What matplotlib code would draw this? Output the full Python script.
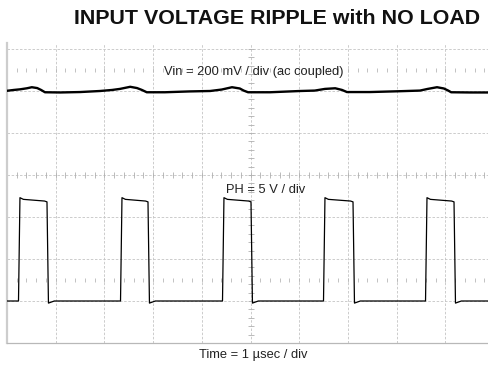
import matplotlib.pyplot as plt
import numpy as np

plt.rcParams['font.family'] = ['Liberation Sans', 'DejaVu Sans']

# Vin channel, ac coupled: time (usec) and ripple (mV)
vin_t = [0.00, 0.14, 0.27, 0.41, 0.51, 0.62, 0.70, 0.78, 1.09, 1.50, 1.91,
         2.16, 2.32, 2.53, 2.67, 2.77, 2.87, 3.24, 3.75, 4.17, 4.41, 4.62,
         4.78, 4.86, 4.95, 5.40, 6.02, 6.32, 6.53, 6.74, 6.88, 6.98, 7.45,
         8.07, 8.48, 8.64, 8.83, 8.97, 9.06, 9.12, 9.51, 9.90]
vin_mv = [1, 5, 8, 13, 18, 14, 5, -6, -7, -5, 0,
          5, 10, 20, 14, 5, -6, -6, -2, 0, 7, 18,
          12, 2, -6, -6, 0, 2, 10, 13, 5, -5, -5,
          -1, 2, 10, 18, 12, 2, -6, -7, -7]

# PH switch node: edge times (usec) and levels (V)
ph_rise = [0.236, 2.331, 4.425, 6.499, 8.594]
ph_fall = [0.821, 2.895, 5.010, 7.105, 9.179]
ph_high_start = 12.3
ph_high_end = 11.9
ph_low_dip = -0.25
ph_low = 0.0

# scope settings
vin_scale, vin_offset = 200.0, 2.0   # mV/div, divisions
ph_scale, ph_offset = 5.0, -3.0      # V/div, divisions
edge = 0.03                          # usec, transition time

# assemble PH trace from its edges
ph_t = [0.0]
ph_v = [ph_low]
for r, f in zip(ph_rise, ph_fall):
    ph_t += [r, r + edge, r + 0.1, f - 0.05, f, f + edge, f + 0.15]
    ph_v += [ph_low, ph_high_start, 12.1, ph_high_end, 11.8, ph_low_dip, ph_low]
ph_t.append(9.9)
ph_v.append(ph_low)

W, H = 489, 368
fig = plt.figure(figsize=(W / 100, H / 100), dpi=100)
ax = fig.add_axes([7 / W, 25 / H, 487 / W, 300 / H])
ax.set_xlim(0, 10)
ax.set_ylim(-4, 132 / 42)

# graticule
grid_kw = dict(color='#c4c4c4', lw=0.6, ls=(0, (3, 2)), zorder=1)
for gx in range(1, 11):
    ax.axvline(gx, **grid_kw)
for gy in range(-3, 4):
    ax.axhline(gy, **grid_kw)

minor = np.arange(0, 10.01, 0.2)
ax.plot(minor, np.zeros_like(minor), ls='none', marker='|', ms=4,
        mew=0.6, color='#b0b0b0', zorder=1)
for row in (2.5, -2.5):
    ax.plot(minor, np.full_like(minor, row), ls='none', marker='|', ms=2.5,
            mew=0.6, color='#b8b8b8', zorder=1)
vminor = np.arange(-4, 3.2, 0.2)
ax.plot(np.full_like(vminor, 5), vminor, ls='none', marker='_', ms=4,
        mew=0.6, color='#b0b0b0', zorder=1)

# traces
vin_div = np.array(vin_mv) / vin_scale + vin_offset
ph_div = np.array(ph_v) / ph_scale + ph_offset
ax.plot(vin_t, vin_div, color='black', lw=1.7, zorder=3)
ax.plot(ph_t, ph_div, color='black', lw=0.9, zorder=3)

ax.set_xticks([])
ax.set_yticks([])
ax.spines['top'].set_visible(False)
ax.spines['right'].set_visible(False)
ax.spines['left'].set_color('#cdcdcd')
ax.spines['left'].set_linewidth(1.6)
ax.spines['bottom'].set_color('#b8b8b8')
ax.spines['bottom'].set_linewidth(0.9)

# labels
fig.text(277.5 / W, 1 - 18.5 / H, 'INPUT VOLTAGE RIPPLE with NO LOAD',
         ha='center', va='center', fontsize=15.4, fontweight='bold',
         color='#111111')
fig.text(253.5 / W, 1 - 71.5 / H, 'Vin = 200 mV / div (ac coupled)',
         ha='center', va='center', fontsize=9.3, color='#222222')
fig.text(266 / W, 1 - 190 / H, 'PH = 5 V / div',
         ha='center', va='center', fontsize=9.3, color='#222222')
fig.text(253.5 / W, 1 - 355 / H, 'Time = 1 µsec / div',
         ha='center', va='center', fontsize=9.3, color='#222222')

fig.savefig('out.png', dpi=100, facecolor='white')
